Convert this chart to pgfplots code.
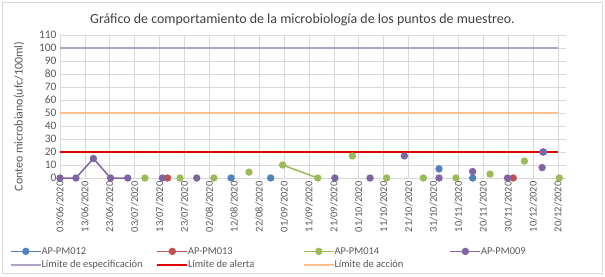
\documentclass[border=0pt]{standalone}
\usepackage{pgfplots}
\pgfplotsset{compat=1.18}
\usepackage{fontspec}
\setmainfont{Carlito}
\definecolor{cblue}{HTML}{4F81BD}
\definecolor{cred}{HTML}{C0504D}
\definecolor{cgreen}{HTML}{9BBB59}
\definecolor{cpurple}{HTML}{8064A2}
\definecolor{lspec}{HTML}{B3A2C7}
\definecolor{lalert}{HTML}{E00000}
\definecolor{laction}{HTML}{FAC090}
\definecolor{gridgray}{HTML}{D9D9D9}
\definecolor{axisgray}{HTML}{BFBFBF}
\definecolor{labelgray}{HTML}{595959}
\definecolor{titlegray}{HTML}{404040}
\newcommand{\lentry}[1]{\makebox[111bp][l]{\hspace{-2bp}#1}}
\begin{document}
\begin{tikzpicture}[x=1bp,y=1bp]
\fill[white] (0,0) rectangle (605,276);
\draw[color=gridgray, line width=0.75bp] (2.5,2.5) rectangle (602.5,273.5);
\node[text=titlegray, font=\fontsize{14}{16}\selectfont] at (302.5,256) {Gráfico de comportamiento de la microbiología de los puntos de muestreo.};
\begin{axis}[
  at={(60bp,98bp)}, anchor=south west,
  scale only axis, width=505.5bp, height=143bp,
  xmin=0, xmax=203, ymin=0, ymax=110,
  clip=false,
  unbounded coords=jump,
  axis line style={draw=none},
  tick style={draw=none},
  ytick={0,10,...,110},
  xtick={0,10,...,200},
  xticklabels={03/06/2020,13/06/2020,23/06/2020,03/07/2020,13/07/2020,23/07/2020,02/08/2020,12/08/2020,22/08/2020,01/09/2020,11/09/2020,21/09/2020,01/10/2020,11/10/2020,21/10/2020,31/10/2020,10/11/2020,20/11/2020,30/11/2020,10/12/2020,20/12/2020},
  xticklabel style={rotate=90, anchor=east, font=\fontsize{10.5}{12}\selectfont, text=labelgray},
  yticklabel style={font=\fontsize{11.5}{13}\selectfont, text=labelgray},
  /pgf/number format/assume math mode=true,
  grid=major,
  major grid style={gridgray, line width=0.75bp},
  extra y ticks={0}, extra y tick labels={},
  extra y tick style={grid style={axisgray, line width=1bp}},
  ylabel={Conteo microbiano(ufc/100ml)},
  ylabel style={at={(axis description cs:-0.081,0.43)}, anchor=center, font=\fontsize{12}{14}\selectfont, text=labelgray},
  every axis plot/.append style={line width=1.5bp, mark=*, mark size=2.9bp, mark options={solid}},
  legend columns=4,
  legend cell align=left,
  legend style={at={(axis description cs:-0.105,-0.455)}, anchor=north west, draw=none, fill=none,
     font=\fontsize{10.5}{12}\selectfont, text=labelgray,
     /tikz/every even column/.append style={column sep=0bp},
     row sep=1bp},
  legend image code/.code={\draw[mark repeat=2,mark phase=2,#1] plot coordinates {(0bp,0bp) (15bp,0bp) (30bp,0bp)};},
]
% limit lines (drawn first, legend added later)
\addplot[lspec, line width=1.5bp, mark=none, forget plot] coordinates {(0,100) (200,100)};
\addplot[laction, line width=1.5bp, mark=none, forget plot] coordinates {(0,50) (200,50)};
\addplot[lalert, line width=1.5bp, mark=none, forget plot] coordinates {(0,20) (200,20)};
% AP-PM012
\addplot[cblue, mark options={fill=cblue, draw=cblue}] coordinates {
 (68.7,0) (70,nan) (84.6,0) (90,nan) (152.2,7) (160,nan) (165.7,0) (170,nan) (194.2,20)};
\addlegendentry{\lentry{AP-PM012}}
% AP-PM013
\addplot[cred, mark options={fill=cred, draw=cred}] coordinates {
 (43.2,0) (100,nan) (182,0)};
\addlegendentry{\lentry{AP-PM013}}
% AP-PM014
\addplot[cgreen, mark options={fill=cgreen, draw=cgreen}] coordinates {
 (34.1,0) (40,nan) (48.2,0) (55,nan) (61.8,0) (70,nan) (75.9,4.5) (80,nan)
 (89.4,10) (103.5,0) (110,nan) (117.4,17) (125,nan) (131.2,0) (140,nan)
 (145.9,0) (150,nan) (159,0) (165,nan) (172.7,3) (180,nan) (186.5,13) (190,nan) (200.5,0)};
\addlegendentry{\lentry{AP-PM014}}
% AP-PM009
\addplot[cpurple, mark options={fill=cpurple, draw=cpurple}] coordinates {
 (0,0) (6.4,0) (13.4,15) (20.3,0) (27.2,0) (35,nan) (41.1,0) (50,nan) (54.9,0) (80,nan)
 (110.4,0) (115,nan) (124.5,0) (130,nan) (138.3,17) (145,nan) (152.2,0) (160,nan)
 (165.7,5) (170,nan) (179.7,0) (185,nan) (193.6,8) (193.8,nan) (193.9,20)};
\addlegendentry{\lentry{AP-PM009}}
\addlegendimage{lspec, line width=1.5bp, mark=none}
\addlegendentry{\lentry{Límite de especificación}}
\addlegendimage{lalert, line width=1.5bp, mark=none}
\addlegendentry{\lentry{Límite de alerta}}
\addlegendimage{laction, line width=1.5bp, mark=none}
\addlegendentry{\lentry{Límite de acción}}
\end{axis}
\end{tikzpicture}
\end{document}
